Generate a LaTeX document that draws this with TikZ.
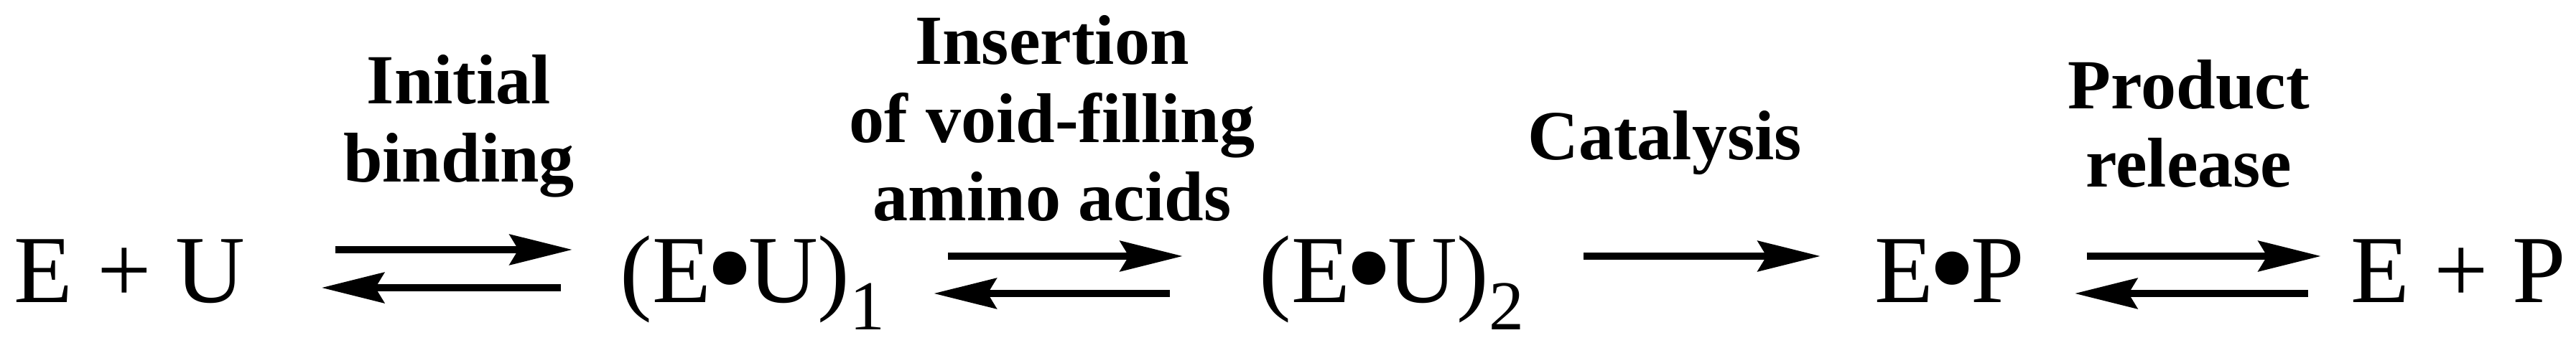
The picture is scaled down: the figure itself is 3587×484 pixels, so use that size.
\documentclass[tikz,border=0pt]{standalone}
\usepackage{fontspec}
\usepackage{graphicx}
\setmainfont{Liberation Serif}
\usetikzlibrary{arrows.meta}

\tikzset{
    species/.style={inner sep=0, anchor=base west, font=\fontsize{38.1pt}{38.1pt}\selectfont},
    steplabel/.style={inner sep=0, anchor=base, align=center, font=\bfseries\fontsize{27.9pt}{30.9pt}\selectfont},
    rxn/.style={line width=3pt, -{Stealth[length=0.87cm, width=0.42cm, inset=0.12cm]}}
}

\begin{document}
\begin{tikzpicture}[x=0.01cm, y=-0.01cm]

    %% Enzyme reaction scheme

    \newcommand{\subidx}[1]{\raisebox{-0.38cm}{\fontsize{27.8pt}{27.8pt}\selectfont #1}}
    \newcommand{\bdot}{\makebox[0.52cm]{\raisebox{-0.17cm}{\scalebox{1.45}{•}}}}

    \useasboundingbox (0,0) rectangle (3587,484);

    % Species
    \node[species] (eu)  at (19,421)   {E + U};
    \node[species] (eu1) at (863,421)  {(E\bdot U)\subidx{1}};
    \node[species] (eu2) at (1753,421) {(E\bdot U)\subidx{2}};
    \node[species] (ep)  at (2610,421) {E\bdot P};
    \node[species] (epr) at (3273,421) {E + P};

    % Arrows
    \draw[rxn, shorten <=1.25cm, shorten >=0.66cm] ([yshift=0.73cm]eu.base east) -- ([yshift=0.73cm]eu1.base west);
    \draw[rxn, shorten <=0.82cm, shorten >=1.06cm] ([yshift=0.20cm]eu1.base west) -- ([yshift=0.20cm]eu.base east);
    \draw[rxn, shorten <=0.87cm, shorten >=1.06cm] ([yshift=0.64cm]eu1.base east) -- ([yshift=0.64cm]eu2.base west);
    \draw[rxn, shorten <=1.24cm, shorten >=0.67cm] ([yshift=0.12cm]eu2.base west) -- ([yshift=0.12cm]eu1.base east);
    \draw[rxn, shorten <=0.82cm, shorten >=0.75cm] ([yshift=0.64cm]eu2.base east) -- ([yshift=0.64cm]ep.base west);
    \draw[rxn, shorten <=0.86cm, shorten >=0.41cm] ([yshift=0.64cm]ep.base east) -- ([yshift=0.64cm]epr.base west);
    \draw[rxn, shorten <=0.59cm, shorten >=0.69cm] ([yshift=0.12cm]epr.base west) -- ([yshift=0.12cm]ep.base east);

    % Labels
    \node[steplabel] (lbind) at (639,253)  {Initial\\binding};
    \node[steplabel] (lins)  at (1465,307) {Insertion\\of void-filling\\amino acids};
    \node[steplabel] (lcat)  at (2318,222) {Catalysis};
    \node[steplabel] (lrel)  at (3048,260) {Product\\release};

\end{tikzpicture}
\end{document}
